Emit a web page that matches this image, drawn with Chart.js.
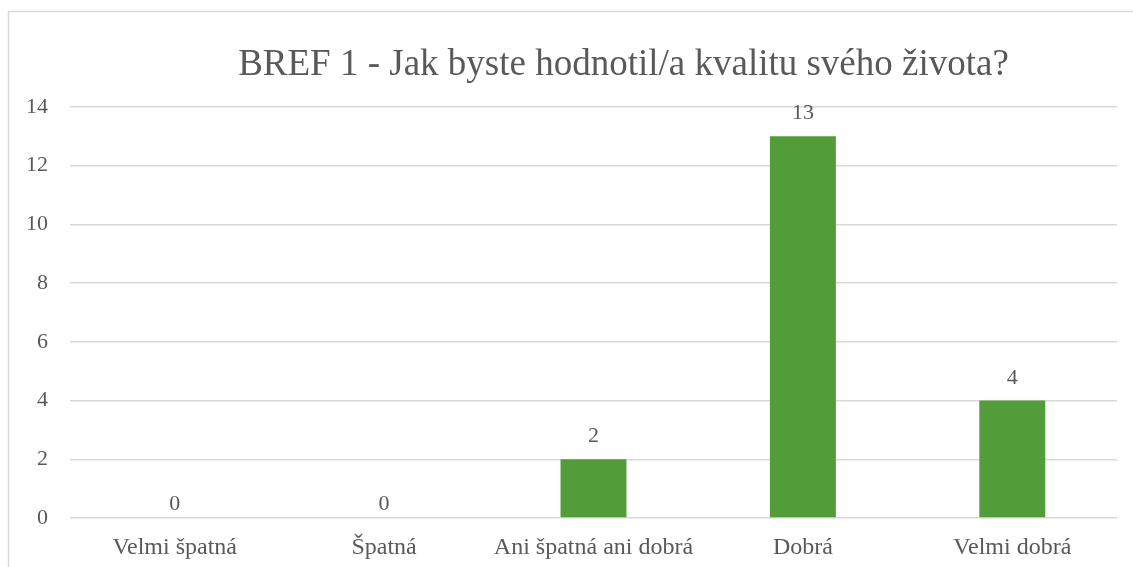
<!DOCTYPE html>
<html>
<head>
<meta charset="utf-8">
<script src="https://cdn.jsdelivr.net/npm/chart.js@4.4.0/dist/chart.umd.min.js"></script>
<style>
  html, body { margin: 0; padding: 0; background: #fff; overflow: hidden; }
  #wrap { width: 1133px; height: 567px; }
</style>
</head>
<body>
<div id="wrap"><canvas id="chart" width="1133" height="567"></canvas></div>
<script>
const titleText = 'BREF 1 - Jak byste hodnotil/a kvalitu svého života?';
const categories = ['Velmi špatná', 'Špatná', 'Ani špatná ani dobrá', 'Dobrá', 'Velmi dobrá'];
const counts = [0, 0, 2, 13, 4];
const yTicks = [0, 2, 4, 6, 8, 10, 12, 14];

const textColor = '#595959';
const serif = "'Liberation Serif', 'Times New Roman', serif";

// ramecek a nadpis
const framePlugin = {
    id: 'frame',
    beforeDraw(chart) {
        const ctx = chart.ctx;
        ctx.save();
        ctx.fillStyle = '#fff';
        ctx.fillRect(0, 0, chart.width, chart.height);
        ctx.strokeStyle = '#d9d9d9';
        ctx.lineWidth = 1.5;
        ctx.strokeRect(8.5, 11.5, chart.width + 20, chart.height + 20);
        ctx.restore();
    },
    afterDraw(chart) {
        const ctx = chart.ctx;
        ctx.save();
        ctx.fillStyle = textColor;
        ctx.font = '37px ' + serif;
        ctx.textAlign = 'center';
        ctx.textBaseline = 'alphabetic';
        const a = chart.chartArea;
        ctx.fillText(titleText, (a.left + a.right) / 2 + 30, 75);
        ctx.restore();
    }
};

// popisky hodnot nad sloupci
const valueLabels = {
    id: 'valueLabels',
    afterDatasetsDraw(chart) {
        const ctx = chart.ctx;
        const meta = chart.getDatasetMeta(0);
        ctx.save();
        ctx.fillStyle = textColor;
        ctx.font = '22px ' + serif;
        ctx.textAlign = 'center';
        ctx.textBaseline = 'alphabetic';
        meta.data.forEach((bar, i) => {
            const v = counts[i];
            const gap = v > 0 ? 17 : 8;
            ctx.fillText(String(v), bar.x, bar.y - gap);
        });
        ctx.restore();
    }
};

new Chart(document.getElementById('chart'), {
    type: 'bar',
    data: {
        labels: categories,
        datasets: [{
            data: counts,
            backgroundColor: '#529d3a',
            borderWidth: 0,
            barPercentage: 0.63,
            categoryPercentage: 0.5
        }]
    },
    options: {
        responsive: false,
        animation: false,
        layout: { padding: { top: 107, right: 16, bottom: 0, left: 0 } },
        plugins: {
            legend: { display: false },
            title: { display: false },
            tooltip: { enabled: false }
        },
        scales: {
            x: {
                grid: { display: false, drawTicks: false },
                border: { display: false },
                ticks: {
                    color: textColor,
                    font: { family: serif, size: 24 },
                    padding: 15,
                    maxRotation: 0,
                    autoSkip: false
                },
                afterFit(scale) { scale.height = 49; }
            },
            y: {
                min: 0,
                max: 14,
                afterBuildTicks(scale) { scale.ticks = yTicks.map(v => ({ value: v })); },
                grid: { color: '#d9d9d9', lineWidth: 1.5, drawTicks: false },
                border: { display: false },
                ticks: {
                    color: textColor,
                    font: { family: serif, size: 22 },
                    padding: 22
                },
                afterFit(scale) { scale.width = 70; }
            }
        }
    },
    plugins: [framePlugin, valueLabels]
});
</script>
</body>
</html>
